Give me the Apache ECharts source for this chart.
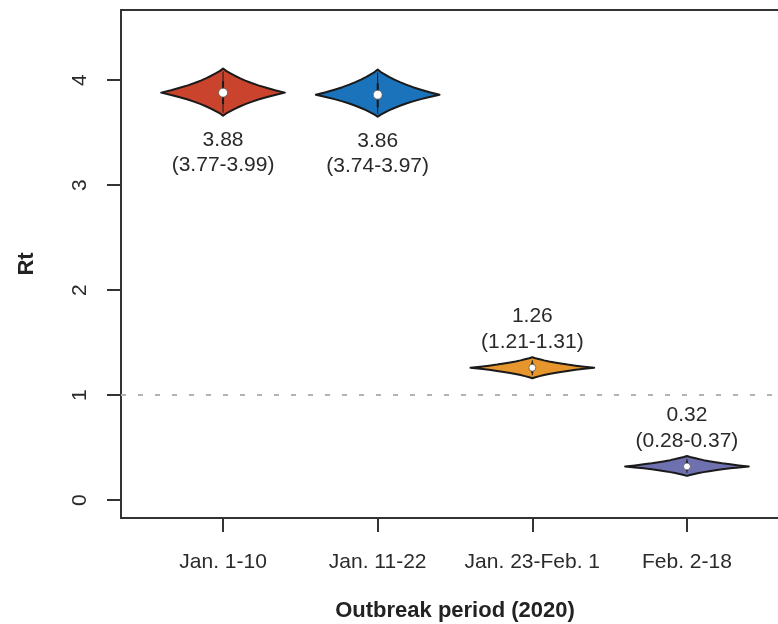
<!DOCTYPE html>
<html>
<head>
<meta charset="utf-8">
<script src="https://cdn.jsdelivr.net/npm/echarts@6/dist/echarts.min.js"></script>
<style>
html,body{margin:0;padding:0;background:#fff;}
#chart{width:778px;height:624px;}
</style>
</head>
<body>
<div id="chart"></div>
<script>
// periods and Rt estimates
var periods = ['Jan. 1-10', 'Jan. 11-22', 'Jan. 23-Feb. 1', 'Feb. 2-18'];
var rtMedian = [3.88, 3.86, 1.26, 0.32];
var rtLower = [3.77, 3.74, 1.21, 0.28];
var rtUpper = [3.99, 3.97, 1.31, 0.37];
// violin extent (tips)
var violinLow = [3.66, 3.65, 1.16, 0.23];
var violinHigh = [4.11, 4.10, 1.36, 0.42];
// relative density: [fraction of height from centre to tip, relative half width]
var densityProfile = [[0, 1], [0.1, 0.84], [0.2, 0.7], [0.3, 0.57], [0.4, 0.46], [0.5, 0.36], [0.6, 0.27], [0.7, 0.19], [0.8, 0.12], [0.9, 0.05], [1, 0]];
var labelSide = ['below', 'below', 'above', 'above'];
var yTicks = [0, 1, 2, 3, 4];
var xTicks = [1, 2, 3, 4];
var threshold = 1;

var colors = ['#C9432D', '#1B73BC', '#E7952D', '#6E70AF'];
var txtFont = '21px "Liberation Sans", Arial, sans-serif';

var data = [];
for (var i = 0; i < periods.length; i++) {
  data.push([i + 1, rtMedian[i], rtLower[i], rtUpper[i], violinLow[i], violinHigh[i], i]);
}

function renderViolin(params, api) {
  var xv = api.value(0), med = api.value(1), lo = api.value(2), hi = api.value(3);
  var vl = api.value(4), vh = api.value(5), idx = api.value(6);
  var c = api.coord([xv, med]);
  var hw = api.size([0.4, 0])[0];
  var n = densityProfile.length;
  var pts = [];
  var k, p;
  for (k = 0; k < n; k++) {
    p = densityProfile[k];
    pts.push([c[0] - p[1] * hw, api.coord([xv, med + p[0] * (vh - med)])[1]]);
  }
  for (k = n - 2; k >= 0; k--) {
    p = densityProfile[k];
    pts.push([c[0] + p[1] * hw, api.coord([xv, med + p[0] * (vh - med)])[1]]);
  }
  for (k = 1; k < n; k++) {
    p = densityProfile[k];
    pts.push([c[0] + p[1] * hw, api.coord([xv, med - p[0] * (med - vl)])[1]]);
  }
  for (k = n - 2; k >= 1; k--) {
    p = densityProfile[k];
    pts.push([c[0] - p[1] * hw, api.coord([xv, med - p[0] * (med - vl)])[1]]);
  }
  var yTop = api.coord([xv, vh])[1], yBot = api.coord([xv, vl])[1];
  var yLo = api.coord([xv, lo])[1], yHi = api.coord([xv, hi])[1];
  var big = (yBot - yTop) > 30;
  var line1, line2;
  if (labelSide[idx] === 'below') {
    line1 = yBot + 24; line2 = yBot + 49;
  } else {
    line1 = yTop - 41; line2 = yTop - 15;
  }
  return {
    type: 'group',
    children: [
      { type: 'polygon', shape: { points: pts },
        style: { fill: colors[idx], stroke: '#1a1a1a', lineWidth: 2, lineJoin: 'round' } },
      { type: 'line', shape: { x1: c[0], y1: yTop + 3, x2: c[0], y2: yBot - 3 },
        style: { stroke: '#1a1a1a', lineWidth: 1 } },
      { type: 'line', shape: { x1: c[0], y1: yHi, x2: c[0], y2: yLo },
        style: { stroke: '#1a1a1a', lineWidth: 2 } },
      { type: 'circle', shape: { cx: c[0], cy: c[1], r: big ? 4.5 : 3.5 },
        style: { fill: '#fff', stroke: '#555', lineWidth: 0.8 } },
      { type: 'text', x: c[0], y: line1,
        style: { text: med.toFixed(2), font: txtFont, fill: '#2a2a2a', align: 'center', verticalAlign: 'middle' } },
      { type: 'text', x: c[0], y: line2,
        style: { text: '(' + lo.toFixed(2) + '-' + hi.toFixed(2) + ')', font: txtFont, fill: '#2a2a2a', align: 'center', verticalAlign: 'middle' } }
    ]
  };
}

var option = {
  animation: false,
  backgroundColor: '#fff',
  textStyle: { fontFamily: '"Liberation Sans", Arial, sans-serif' },
  grid: { left: 121, top: 10, width: 668, height: 508, outerBoundsMode: 'none', containLabel: false,
    show: true, borderColor: '#333', borderWidth: 2, backgroundColor: 'transparent' },
  xAxis: {
    type: 'value', min: 0.34, max: 4.66,
    name: 'Outbreak period (2020)', nameLocation: 'middle', nameGap: 82,
    nameTextStyle: { fontSize: 22, fontWeight: 'bold', color: '#222' },
    axisLine: { show: true, onZero: false, lineStyle: { color: '#333', width: 2 } },
    axisTick: { show: true, customValues: xTicks, length: 14, lineStyle: { color: '#333', width: 2 } },
    axisLabel: { customValues: xTicks, margin: 34, fontSize: 21, color: '#2a2a2a',
      formatter: function (v) { return periods[Math.round(v) - 1]; } },
    splitLine: { show: false }
  },
  yAxis: {
    type: 'value', min: -0.171, max: 4.667,
    name: 'Rt', nameLocation: 'middle', nameGap: 83, nameRotate: 90,
    nameTextStyle: { fontSize: 22, fontWeight: 'bold', color: '#222' },
    axisLine: { show: true, onZero: false, lineStyle: { color: '#333', width: 2 } },
    axisTick: { show: true, customValues: yTicks, length: 14, lineStyle: { color: '#333', width: 2 } },
    axisLabel: { customValues: yTicks, rotate: 90, margin: 30, fontSize: 21, color: '#2a2a2a' },
    splitLine: { show: false }
  },
  series: [
    {
      type: 'line', data: [], silent: true,
      markLine: {
        silent: true, symbol: 'none', label: { show: false },
        lineStyle: { color: '#b4b4b4', type: [5, 12], width: 2 },
        data: [{ yAxis: threshold }]
      }
    },
    {
      type: 'custom', renderItem: renderViolin, data: data,
      encode: { x: 0, y: 1 }, clip: false, z: 3
    }
  ]
};

var mychart = echarts.init(document.getElementById('chart'));
mychart.setOption(option);
</script>
</body>
</html>
